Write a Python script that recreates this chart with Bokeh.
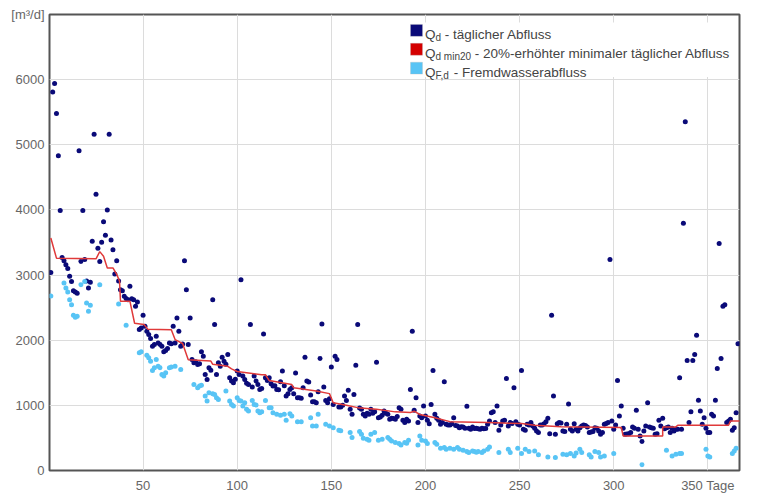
from bokeh.plotting import figure
from bokeh.models import Range1d, FixedTicker, Label, BoxAnnotation
from bokeh.embed import file_html
from bokeh.resources import INLINE

# ---------------- data ----------------
# Q_d - daily discharge, day 1 .. 366
qd = [
    3040, 5810, 5940, 5480, 4830, 3990, 3270, 3220, 3160, 3100,
    2980, 2900, 2760, 2740, 2720, 4910, 3210, 3990, 3240, 2910,
    2800, 2890, 3520, 5160, 4240, 3410, 3210, 3505, 3820, 3610,
    4000, 5160, 3540, 3390, 3015, 3220, 2910, 2776, 2760, 2673,
    2640, 2622, 2827, 2638, 2622, 2520, 2587, 2163, 2189, 2383,
    2214, 2138, 2087, 2025, 1908, 1934, 2061, 1959, 1934, 1908,
    1821, 1842, 1872, 1959, 1944, 2214, 1959, 2342, 2138, 1908,
    1940, 3219, 2776, 1934, 2342, 1704, 1653, 1670, 1628, 1640,
    1821, 1755, 1474, 1398, 1576, 1540, 2622, 2240, 1474, 1653,
    1600, 1740, 1679, 1630, 1781, 1423, 1372, 1347, 1400, 1526,
    1474, 2929, 1449, 1398, 1340, 1321, 2240, 1281, 1449, 1372,
    1321, 1245, 1260, 2097, 1423, 1380, 1423, 1330, 1296, 1300,
    1245, 1240, 1362, 1526, 1300, 1143, 1178, 1245, 1270, 1180,
    1495, 1117, 1117, 1110, 1270, 1740, 1372, 1360, 1158, 1056,
    1056, 1041, 1209, 1719, 2250, 1281, 1076, 1041, 1100, 1587,
    1015, 1755, 1704, 974, 974, 1000, 1143, 1076, 1230, 939,
    862, 1168, 1617, 2240, 960, 939, 862, 837, 880, 862,
    939, 880, 900, 1663, 811, 820, 850, 913, 880, 862,
    786, 801, 800, 786, 830, 964, 940, 770, 735, 786,
    760, 1245, 2138, 923, 1117, 735, 837, 811, 990, 837,
    770, 719, 1015, 1536, 862, 801, 770, 709, 735, 1362,
    709, 700, 699, 719, 811, 690, 684, 658, 670, 668,
    648, 985, 650, 633, 668, 643, 650, 640, 633, 648,
    640, 645, 709, 760, 888, 903, 735, 990, 617, 700,
    760, 770, 1413, 684, 735, 720, 1270, 750, 709, 700,
    1536, 633, 617, 709, 700, 735, 684, 650, 607, 582,
    699, 700, 719, 750, 801, 566, 2383, 1143, 556, 719,
    735, 730, 607, 597, 709, 1020, 633, 607, 719, 633,
    607, 658, 684, 699, 690, 668, 582, 590, 600, 658,
    648, 607, 556, 582, 709, 720, 735, 3240, 760, 633,
    699, 1383, 837, 990, 648, 556, 560, 566, 582, 668,
    648, 923, 633, 531, 444, 607, 684, 1041, 668, 658,
    648, 556, 566, 770, 684, 801, 640, 658, 668, 582,
    648, 607, 633, 633, 1423, 633, 3796, 5352, 1689, 735,
    903, 1689, 1781, 2077, 1077, 913, 709, 811, 648, 582,
    582, 862, 837, 1077, 1566, 3485, 1719, 2520, 2546, 735,
    760, 786, 617, 658, 888, 1944,
]
qd_days = list(range(1, len(qd) + 1))

# Q_F,d - infiltration water discharge (only on dry days)
qf_days = [
    1, 8, 9, 10, 11, 12, 13, 14, 15, 17, 19, 20, 21, 22, 27, 37, 41,
    48, 49, 52, 53, 54, 55, 56, 57, 58, 59, 60, 61, 62, 64, 65, 67, 70,
    77, 79, 80, 81, 83, 84, 85, 87, 88, 89, 90, 94, 96, 97, 98, 100,
    101, 102, 103, 104, 105, 106, 108, 109, 110, 111, 112, 113, 115, 117,
    118, 119, 121, 123, 125, 126, 128, 129, 132, 134, 139, 140, 142, 143,
    147, 149, 151, 154, 155, 160, 161, 165, 166, 167, 169, 170, 171, 173,
    175, 177, 180, 181, 182, 184, 186, 187, 189, 190, 191, 196, 197, 198,
    200, 201, 205, 206, 208, 210, 211, 213, 215, 217, 218, 220, 222, 223,
    225, 226, 227, 228, 230, 231, 233, 234, 239, 244, 245, 249, 251, 253,
    255, 258, 260, 265, 269, 273, 275, 277, 279, 280, 282, 283, 287, 288,
    290, 292, 293, 295, 300, 315, 328, 331, 333, 335, 336, 349, 350, 351,
    363, 364, 365,
]
qf = [
    2680, 2878, 2801, 2740, 2622, 2546, 2383, 2352, 2367, 2852, 2903, 2571, 2444, 2536, 2852, 2556, 2230,
    1806, 1821, 1770, 1730, 1679, 1536, 1576, 1704, 1602, 1576, 1474, 1449, 1500, 1576, 1587, 1602, 1551,
    1321, 1270, 1296, 1310, 1143, 1066, 1194, 1180, 1168, 1117, 1090, 1219, 1066, 1015, 990, 1117,
    1076, 1066, 990, 1041, 939, 913, 1076, 1015, 1005, 913, 888, 900, 1076, 964,
    964, 888, 862, 850, 862, 770, 872, 837, 750, 750, 811, 684, 684, 862,
    709, 684, 658, 617, 610, 582, 505, 597, 556, 495, 480, 464, 556, 582,
    464, 480, 505, 480, 454, 429, 413, 393, 429, 420, 464, 393, 531, 464,
    454, 413, 429, 403, 342, 352, 327, 340, 327, 352, 327, 311, 291, 276,
    301, 291, 280, 290, 276, 300, 327, 362, 276, 327, 276, 342, 260, 327,
    291, 301, 240, 209, 199, 250, 240, 260, 224, 270, 327, 276, 240, 209,
    291, 276, 209, 224, 260, 87, 311, 224, 250, 260, 260, 327, 224, 209,
    260, 301, 342,
]

# Q_d min20 - 20 % increased minimal daily discharge (step line)
qmin_days = [1, 4, 25, 27, 29, 31, 34, 36, 37.5, 38, 43, 45.5, 50.5, 52.5, 65, 67,
             71, 74, 86, 87, 95, 97, 100, 113, 115, 117, 129, 130, 142, 149, 151,
             158, 164, 174, 184, 192, 194, 197, 205, 213, 233, 251, 258, 272, 304,
             305, 326, 326, 333, 334, 361, 362, 367]
qmin = [3570, 3260, 3250, 3360, 3290, 3110, 3110, 3010, 2910, 2600, 2600, 2260, 2240, 2170, 2160, 2010,
        1950, 1700, 1680, 1630, 1600, 1560, 1520, 1470, 1470, 1380, 1320, 1270, 1220, 1180, 1040,
        1000, 965, 940, 900, 890, 910, 860, 810, 750, 735, 720, 694, 670, 660,
        531, 531, 669, 669, 694, 694, 761, 761]

x_ticks = [50, 100, 150, 200, 250, 300, 350]
y_ticks = [0, 1000, 2000, 3000, 4000, 5000, 6000, 7000]
x_labels = {350: "350 Tage"}
y_labels = {7000: "[m³/d]"}

C_QD = "#0a0a78"
C_MIN = "#e03a3a"
C_QF = "#58c4f5"
C_SW_MIN = "#d40000"

# ---------------- layout ----------------
W, H = 760, 495
X0, X1 = 0.3, 366.8
Y0, Y1 = 0, 7000
# plot frame in page pixels (also used for the hand-made legend)
FR_L, FR_R, FR_T, FR_B = 49, 739, 14, 473


def dx(px):
    return X0 + (px - FR_L) / (FR_R - FR_L) * (X1 - X0)


def dy(py):
    return Y1 - (py - FR_T) / (FR_B - FR_T) * (Y1 - Y0)


p = figure(width=W, height=H, output_backend="svg", toolbar_location=None,
           x_range=Range1d(X0, X1), y_range=Range1d(Y0, Y1),
           min_border_left=FR_L, min_border_right=W - FR_R,
           min_border_top=FR_T, min_border_bottom=H - FR_B)
p.background_fill_color = "white"
p.border_fill_color = "white"
p.outline_line_color = "#555555"
p.outline_line_width = 2

for ax in (p.xaxis, p.yaxis):
    ax.axis_line_color = None
    ax.major_tick_line_color = None
    ax.minor_tick_line_color = None
    ax.major_tick_out = 0
    ax.major_tick_in = 0
    ax.major_label_text_color = "#666666"
    ax.major_label_text_font = "Liberation Sans"
    ax.major_label_text_font_size = "13px"

p.xaxis.ticker = FixedTicker(ticks=x_ticks)
p.xaxis.major_label_overrides = x_labels
p.xaxis.major_label_standoff = 7
p.yaxis.ticker = FixedTicker(ticks=y_ticks)
p.yaxis.major_label_overrides = y_labels
p.yaxis.major_label_standoff = 5

p.xgrid.ticker = FixedTicker(ticks=x_ticks)
p.ygrid.ticker = FixedTicker(ticks=y_ticks)
p.xgrid.grid_line_color = "#dcdcdc"
p.ygrid.grid_line_color = "#dcdcdc"

p.scatter(qd_days, qd, size=5, marker="circle", fill_color=C_QD, line_color=None)
p.scatter(qf_days, qf, size=5, marker="circle", fill_color=C_QF, line_color=None)
p.line(qmin_days, qmin, line_color=C_MIN, line_width=1.5)

# ---------------- legend (hand made, for subscripts) ----------------
p.add_layout(BoxAnnotation(left=dx(404), right=dx(737), top=dy(22), bottom=dy(77),
                           fill_color="white", fill_alpha=1.0, line_color=None))

FONT = "Liberation Sans"
MAIN = 13.5
SUB = 10
TXT = "#444444"
q_w = 0.778 * MAIN
sp_w = 0.278 * MAIN
rows = [
    (C_QD, 34.5, "d", 0.556 * SUB, "- täglicher Abfluss"),
    (C_SW_MIN, 53.5, "d min20", 3.557 * SUB, "- 20%-erhöhter minimaler täglicher Abfluss"),
    (C_QF, 72.5, "F,d", 1.445 * SUB, "- Fremdwasserabfluss"),
]
for color, base, sub, sub_w, rest in rows:
    p.add_layout(BoxAnnotation(left=dx(410), right=dx(422), top=dy(base - 10.5),
                               bottom=dy(base + 1.5), fill_color=color, fill_alpha=1.0,
                               line_color="#b8b8b8", line_width=1))
    x0 = 424.5
    p.add_layout(Label(x=dx(x0), y=dy(base), text="Q", text_font=FONT,
                       text_font_size=f"{MAIN}px", text_color=TXT,
                       text_baseline="alphabetic", text_align="left"))
    p.add_layout(Label(x=dx(x0 + q_w), y=dy(base + 2.5), text=sub, text_font=FONT,
                       text_font_size=f"{SUB}px", text_color=TXT,
                       text_baseline="alphabetic", text_align="left"))
    p.add_layout(Label(x=dx(x0 + q_w + sub_w + sp_w), y=dy(base), text=rest, text_font=FONT,
                       text_font_size=f"{MAIN}px", text_color=TXT,
                       text_baseline="alphabetic", text_align="left"))

open("out.html", "w").write(file_html(p, INLINE))
